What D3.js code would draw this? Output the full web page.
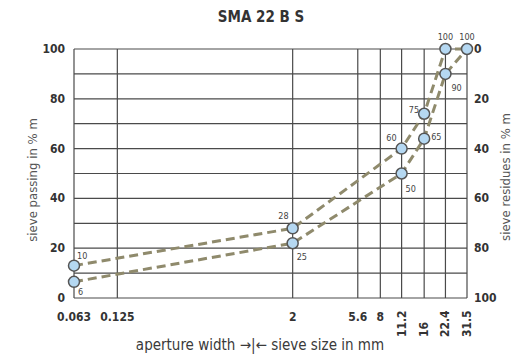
<!DOCTYPE html>
<html>
<head>
<meta charset="utf-8">
<script src="https://cdn.jsdelivr.net/npm/d3@7"></script>
<style>
  body { margin: 0; background: #fff; }
  svg text { font-family: "Liberation Sans Narrow", "DejaVu Sans Condensed", "Arial Narrow", sans-serif; }
</style>
</head>
<body>
<div class="chart"></div>
<script>
// sieve sizes (mm) on the x axis
const sieves = [0.063, 0.125, 2, 5.6, 8, 11.2, 16, 22.4, 31.5];
const sieveLabels = ["0.063", "0.125", "2", "5.6", "8", "11.2", "16", "22.4", "31.5"];
const rotatedLabels = ["11.2", "16", "22.4", "31.5"];
const passTicks = [0, 20, 40, 60, 80, 100];

// grading limits: sieve, position as drawn, printed label
const upperSieves = [0.063, 2, 11.2, 16, 22.4, 31.5];
const upperValues = [13, 28, 60, 74, 100, 100];
const upperLabels = ["10", "28", "60", "75", "100", "100"];
const lowerSieves = [0.063, 2, 11.2, 16, 22.4, 31.5];
const lowerValues = [6.5, 22, 50, 64, 90, 100];
const lowerLabels = ["6", "25", "50", "65", "90", ""];

const W = 520, H = 360;
const M = { top: 49, right: 53, bottom: 62, left: 74 };

const svg = d3.select(".chart").append("svg")
  .attr("width", W).attr("height", H);

const x = d3.scaleLog().domain([0.063, 31.5]).range([M.left, W - M.right]);
const y = d3.scaleLinear().domain([0, 100]).range([H - M.bottom, M.top]);

const gridColor = "#4a4a4a";

// horizontal grid every 10 %
svg.selectAll(".hgrid").data(d3.range(0, 101, 10)).enter()
  .append("line").attr("class", "hgrid")
  .attr("x1", x(0.063)).attr("x2", x(31.5))
  .attr("y1", d => y(d)).attr("y2", d => y(d))
  .attr("stroke", gridColor).attr("stroke-width", 1.2);

// vertical grid at each sieve
svg.selectAll(".vgrid").data(sieves).enter()
  .append("line").attr("class", "vgrid")
  .attr("x1", d => x(d)).attr("x2", d => x(d))
  .attr("y1", y(0)).attr("y2", y(100))
  .attr("stroke", gridColor).attr("stroke-width", 1.2);

// title
svg.append("text")
  .attr("x", 261).attr("y", 22)
  .attr("text-anchor", "middle")
  .style("font-size", "15px").style("font-weight", "bold").style("fill", "#333")
  .text("SMA 22 B S");

// left axis labels
svg.selectAll(".ltick").data(passTicks).enter()
  .append("text").attr("class", "ltick")
  .attr("x", M.left - 9).attr("y", d => y(d) + 4)
  .attr("text-anchor", "end")
  .style("font-size", "12px").style("font-weight", "bold").style("fill", "#333")
  .text(d => d);

// right axis labels (residues)
svg.selectAll(".rtick").data(passTicks).enter()
  .append("text").attr("class", "rtick")
  .attr("x", W - M.right + 7).attr("y", d => y(d) + 4)
  .attr("text-anchor", "start")
  .style("font-size", "12px").style("font-weight", "bold").style("fill", "#333")
  .text(d => 100 - d);

// bottom labels
svg.selectAll(".btick").data(sieves).enter()
  .append("text").attr("class", "btick")
  .attr("transform", (d, i) => rotatedLabels.includes(sieveLabels[i])
    ? `translate(${x(d) + 4},${H - 23}) rotate(-90)`
    : `translate(${x(d)},${H - 39})`)
  .attr("text-anchor", (d, i) => rotatedLabels.includes(sieveLabels[i]) ? "start" : "middle")
  .style("font-size", "12px").style("font-weight", "bold").style("fill", "#333")
  .text((d, i) => sieveLabels[i]);

// axis titles
svg.append("text")
  .attr("transform", "translate(37,180) rotate(-90)")
  .attr("text-anchor", "middle")
  .style("font-size", "13px").style("fill", "#555")
  .text("sieve passing in % m");

svg.append("text")
  .attr("transform", "translate(510,177) rotate(-90)")
  .attr("text-anchor", "middle")
  .style("font-size", "13px").style("fill", "#555")
  .text("sieve residues in % m");

svg.append("text")
  .attr("x", 260).attr("y", 350)
  .attr("text-anchor", "middle")
  .style("font-size", "15px").style("fill", "#3a3a3a")
  .text("aperture width \u2192|\u2190 sieve size in mm");

// curves
const upper = upperSieves.map((s, i) => ({ s: s, v: upperValues[i], label: upperLabels[i] }));
const lower = lowerSieves.map((s, i) => ({ s: s, v: lowerValues[i], label: lowerLabels[i] }));

const line = d3.line().x(d => x(d.s)).y(d => y(d.v));

[upper, lower].forEach(data => {
  svg.append("path")
    .attr("d", line(data))
    .attr("fill", "none")
    .attr("stroke", "#8f8a6c")
    .attr("stroke-width", 3)
    .attr("stroke-dasharray", "9,5");
});

// points
const points = upper.concat(lower.slice(0, 5));
svg.selectAll(".pt").data(points).enter()
  .append("circle").attr("class", "pt")
  .attr("cx", d => x(d.s)).attr("cy", d => y(d.v))
  .attr("r", 5.5)
  .attr("fill", "#b5d8f2")
  .attr("stroke", "#555")
  .attr("stroke-width", 1.5);

// point labels: offsets by sieve and curve
const upperOff = [[3, -7, "start"], [-4, -9, "end"], [-5, -8, "end"], [-5, -1, "end"], [0, -9, "middle"], [0, -9, "middle"]];
const lowerOff = [[4, 13, "start"], [4, 17, "start"], [4, 18, "start"], [7, 1, "start"], [6, 17, "start"]];

function labels(data, off) {
  svg.selectAll(null).data(data.filter((d, i) => i < off.length)).enter()
    .append("text")
    .attr("x", (d, i) => x(d.s) + off[i][0])
    .attr("y", (d, i) => y(d.v) + off[i][1])
    .attr("text-anchor", (d, i) => off[i][2])
    .style("font-size", "9px").style("fill", "#444")
    .text(d => d.label);
}
labels(upper, upperOff);
labels(lower, lowerOff);
</script>
</body>
</html>
